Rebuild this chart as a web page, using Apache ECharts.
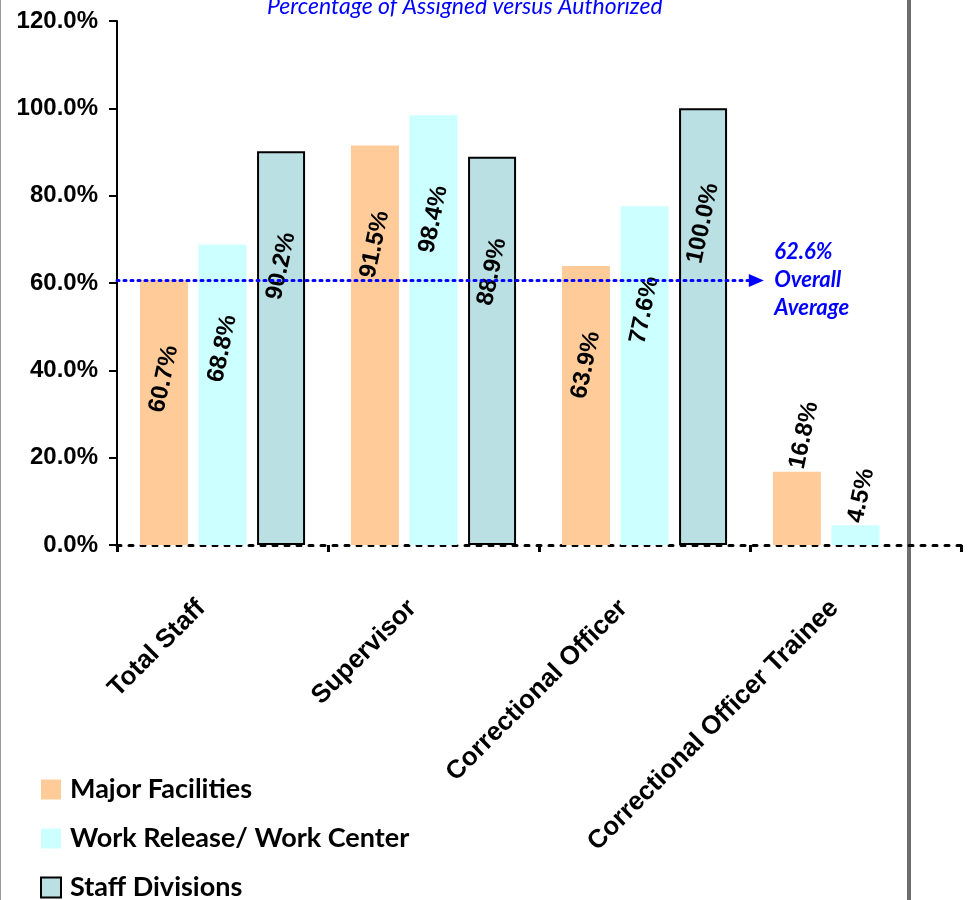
<!DOCTYPE html>
<html>
<head>
<meta charset="utf-8">
<script src="https://cdn.jsdelivr.net/npm/echarts@6/dist/echarts.min.js"></script>
<style>
html,body{margin:0;padding:0;background:#fff;}
#chart{width:968px;height:900px;}
</style>
</head>
<body>
<div id="chart"></div>
<script>
const categories = ['Total Staff', 'Supervisor', 'Correctional Officer', 'Correctional Officer Trainee'];
const seriesNames = ['Major Facilities', 'Work Release/ Work Center', 'Staff Divisions'];
const majorFacilities = [60.7, 91.5, 63.9, 16.8];
const workRelease = [68.8, 98.4, 77.6, 4.5];
const staffDivisions = [90.2, 88.9, 100.0, null];
const yTicks = [0, 20, 40, 60, 80, 100, 120];
const averageLinePosition = 60.6;
const averageLineEnd = 3.03;
const averageLabel = ['62.6%', 'Overall', 'Average'];
const titleText = 'Percentage of Assigned versus Authorized';

const colors = ['#FFCC99', '#CCFFFF', '#BBE0E3'];
const insideDist = [99, 104, 115];

function buildData(values) {
  return values.map(v => {
    if (v == null) return null;
    if (v < 30) {
      return { value: v, label: { position: 'top', align: 'left', verticalAlign: 'middle', distance: 3 } };
    }
    return v;
  });
}

function barSeries(name, values, idx, extraStyle) {
  return {
    name: name,
    type: 'bar',
    xAxisIndex: 0,
    yAxisIndex: 0,
    barWidth: 48,
    barGap: '22%',
    data: buildData(values),
    itemStyle: Object.assign({ color: colors[idx] }, extraStyle || {}),
    label: {
      show: true,
      position: 'insideTop',
      distance: insideDist[idx],
      rotate: 78,
      align: 'center',
      verticalAlign: 'middle',
      formatter: p => p.value.toFixed(1) + '%',
      fontFamily: 'Liberation Sans, Arial, sans-serif',
      fontWeight: 'bold',
      fontSize: 24,
      color: '#000'
    },
    emphasis: { disabled: true }
  };
}

const chart = echarts.init(document.getElementById('chart'), null, { renderer: 'canvas' });
const option = {
  backgroundColor: '#fff',
  animation: false,
  title: {
    text: titleText,
    left: 262,
    top: -10,
    textStyle: {
      fontFamily: 'Lato, "Open Sans", sans-serif',
      fontStyle: 'italic',
      fontWeight: 'normal',
      fontSize: 23,
      color: '#0000FF'
    }
  },
  legend: {
    data: seriesNames,
    orient: 'vertical',
    left: 40,
    top: 776,
    height: 400,
    padding: 0,
    itemWidth: 20,
    itemHeight: 20,
    itemGap: 22,
    icon: 'rect',
    textStyle: {
      fontFamily: 'Lato, "Open Sans", sans-serif',
      fontWeight: 'bold',
      fontSize: 27,
      lineHeight: 22,
      color: '#000',
      padding: [0, 0, 0, 4]
    }
  },
  grid: { left: 117, right: 7, top: 21, bottom: 355, containLabel: false },
  xAxis: [{
    type: 'category',
    data: categories,
    axisLine: { show: true, lineStyle: { color: '#000', width: 3, type: [4, 8] } },
    axisTick: { show: true, length: 7, lineStyle: { color: '#000', width: 3 } },
    axisLabel: {
      interval: 0,
      rotate: 45,
      margin: 38,
      padding: [0, 30, 0, 0],
      fontFamily: 'Liberation Sans, Arial, sans-serif',
      fontWeight: 'bold',
      fontSize: 26,
      color: '#000'
    },
    splitLine: { show: false }
  }, {
    type: 'value',
    min: 0,
    max: categories.length,
    show: false
  }],
  yAxis: {
    type: 'value',
    min: yTicks[0],
    max: yTicks[yTicks.length - 1],
    interval: yTicks[1] - yTicks[0],
    axisLine: { show: true, lineStyle: { color: '#000', width: 2 } },
    axisTick: { show: true, length: 8, lineStyle: { color: '#000', width: 2 } },
    axisLabel: {
      margin: 19,
      formatter: v => v.toFixed(1) + '%',
      fontFamily: 'Liberation Sans, Arial, sans-serif',
      fontWeight: 'bold',
      fontSize: 24,
      color: '#000'
    },
    splitLine: { show: false }
  },
  series: [
    barSeries(seriesNames[0], majorFacilities, 0),
    barSeries(seriesNames[1], workRelease, 1),
    barSeries(seriesNames[2], staffDivisions, 2, { borderColor: '#000', borderWidth: 2 }),
    {
      name: 'avg',
      type: 'line',
      xAxisIndex: 1,
      yAxisIndex: 0,
      data: [[0, averageLinePosition]],
      showSymbol: false,
      symbol: 'none',
      lineStyle: { opacity: 0 },
      silent: true,
      markLine: {
        silent: true,
        symbol: ['none', 'triangle'],
        symbolSize: [13, 15],
        lineStyle: { color: '#0000FF', width: 3, type: [2, 5], cap: 'round' },
        label: {
          show: true,
          position: 'end',
          distance: 18,
          align: 'left',
          verticalAlign: 'middle',
          formatter: averageLabel.join('\n'),
          fontFamily: 'Lato, "Open Sans", sans-serif',
          fontStyle: 'italic',
          fontWeight: 'bold',
          fontSize: 22,
          lineHeight: 28,
          color: '#0000FF'
        },
        data: [[
          { coord: [0, averageLinePosition] },
          { coord: [averageLineEnd, averageLinePosition] }
        ]]
      }
    }
  ],
  graphic: [
    { type: 'rect', left: 0, top: 0, shape: { width: 1, height: 900 }, style: { fill: '#999' }, silent: true },
    { type: 'rect', left: 907, top: 0, shape: { width: 4, height: 900 }, style: { fill: '#6e6e6e' }, silent: true }
  ]
};
chart.setOption(option);
</script>
</body>
</html>
